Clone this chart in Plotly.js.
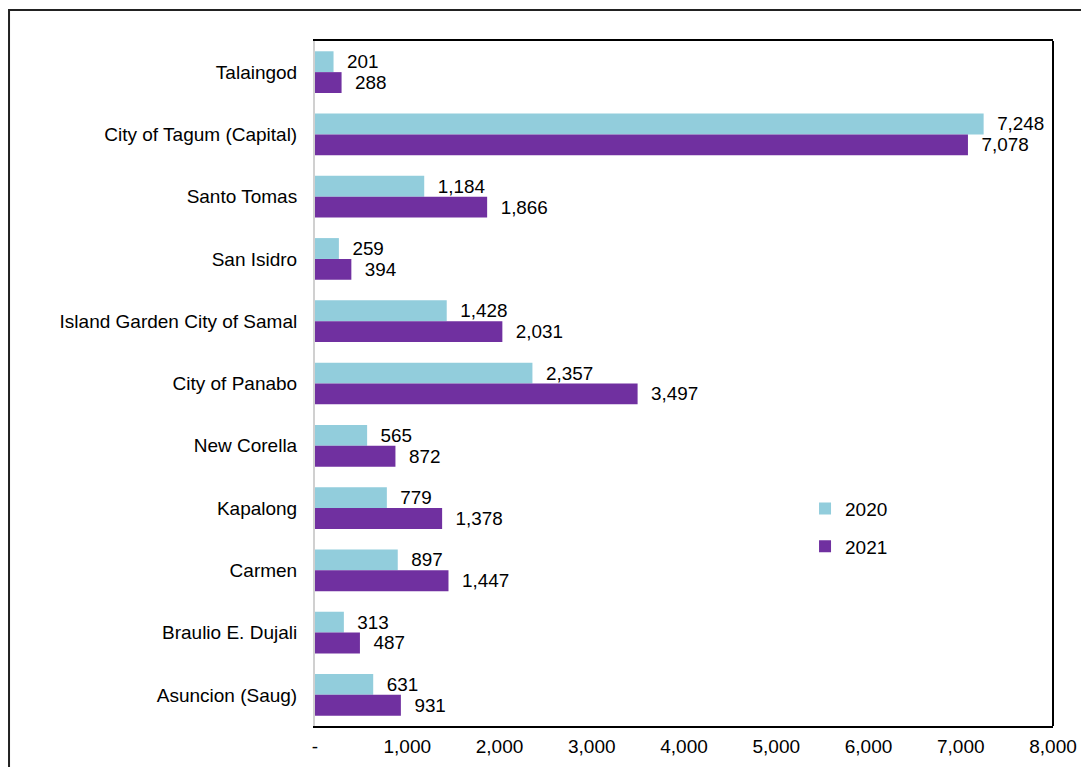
<!DOCTYPE html>
<html>
<head>
<meta charset="utf-8">
<script src="https://cdn.plot.ly/plotly-3.0.1.min.js"></script>
<style>
  body { margin: 0; background: #fff; }
  #chart { width: 1081px; height: 767px; }
</style>
</head>
<body>
<div id="chart"></div>
<script>
// municipalities, top to bottom as in the chart
var places = ["Talaingod", "City of Tagum (Capital)", "Santo Tomas", "San Isidro",
  "Island Garden City of Samal", "City of Panabo", "New Corella", "Kapalong",
  "Carmen", "Braulio E. Dujali", "Asuncion (Saug)"];
var y2020 = [201, 7248, 1184, 259, 1428, 2357, 565, 779, 897, 313, 631];
var y2021 = [288, 7078, 1866, 394, 2031, 3497, 872, 1378, 1447, 487, 931];
var tickVals = [0, 1000, 2000, 3000, 4000, 5000, 6000, 7000, 8000];
var tickText = ["-", "1,000", "2,000", "3,000", "4,000", "5,000", "6,000", "7,000", "8,000"];

var fnt = {family: "Liberation Sans, Arial, sans-serif", size: 19, color: "#000"};

// a couple of nbsp to push the labels off the bar end like excel does
var lbl = "\u00a0\u00a0%{x:,}";

var t2020 = {type: "bar", orientation: "h", name: "2020", y: places, x: y2020,
  marker: {color: "#92CDDC"}, texttemplate: lbl, textposition: "outside",
  textfont: fnt, cliponaxis: false, legendgroup: "a"};
var t2021 = {type: "bar", orientation: "h", name: "2021", y: places, x: y2021,
  marker: {color: "#7030A0"}, texttemplate: lbl, textposition: "outside",
  textfont: fnt, cliponaxis: false, legendgroup: "b"};

var layout = {
  width: 1081, height: 767,
  margin: {l: 315, r: 28, t: 41, b: 41},
  paper_bgcolor: "#fff", plot_bgcolor: "#fff",
  font: fnt,
  barmode: "group", bargap: 0.33, bargroupgap: 0,
  xaxis: {range: [0, 8000], tickvals: tickVals, ticktext: tickText,
    showgrid: false, zeroline: false, showline: true, linecolor: "#000",
    linewidth: 2, mirror: true, ticks: "", ticklabelstandoff: 2, fixedrange: true},
  yaxis: {autorange: "reversed", showgrid: false, zeroline: false,
    showline: true, linecolor: "#d0d0d0", linewidth: 2, ticks: "",
    ticklabelstandoff: 12, fixedrange: true},
  legend: {x: 0.664, y: 0.345, xanchor: "left", yanchor: "top",
    traceorder: "grouped", tracegroupgap: 10, font: fnt,
    bgcolor: "rgba(0,0,0,0)", itemwidth: 30},
  shapes: [
    {type: "line", xref: "paper", yref: "paper", x0: 1, x1: 1, y0: 0, y1: 1,
      line: {color: "#000", width: 2}},
    {type: "rect", xref: "paper", yref: "paper", x0: -0.4146, x1: 1.2,
      y0: -0.3, y1: 1.0453, line: {color: "#222", width: 2}}
  ]
};

Plotly.newPlot("chart", [t2020, t2021], layout, {displayModeBar: false, responsive: false});
</script>
</body>
</html>
